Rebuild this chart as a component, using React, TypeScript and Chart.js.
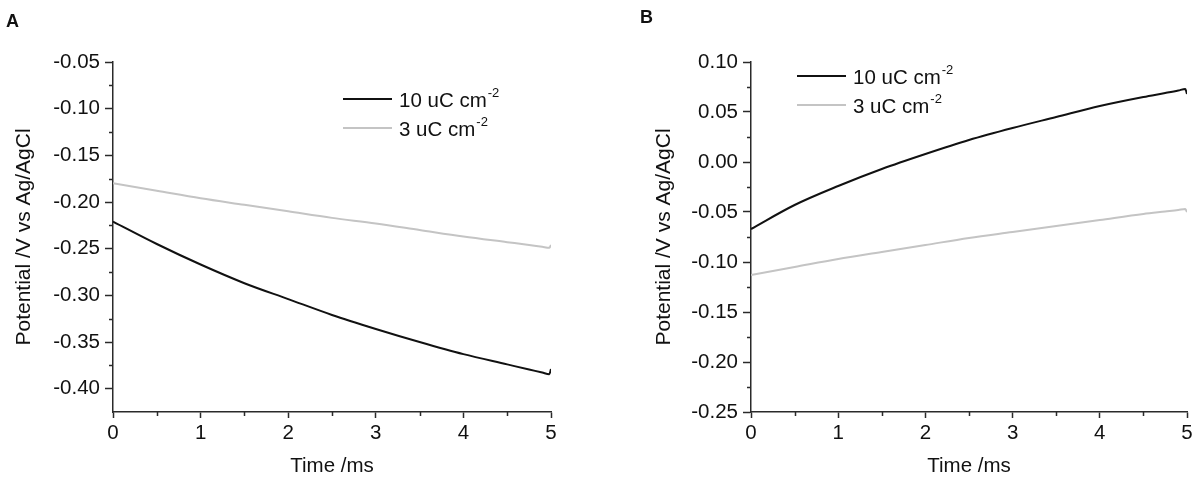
import React, { useEffect, useRef } from 'react';
import { Chart, registerables } from 'chart.js';

Chart.register(...registerables);

// sample times (ms); the points after 4.5 follow the small hook at the end of each trace
const times = [0, 0.5, 1, 1.5, 2, 2.5, 3, 3.5, 4, 4.5, 4.75, 4.9, 4.98, 5];

// panel A, potential /V vs Ag/AgCl
const a10uC = [-0.221, -0.245, -0.267, -0.287, -0.304, -0.321, -0.336, -0.35, -0.363, -0.374, -0.3795, -0.3827, -0.3845, -0.379];
const a3uC = [-0.18, -0.188, -0.196, -0.203, -0.21, -0.217, -0.223, -0.23, -0.237, -0.243, -0.246, -0.248, -0.249, -0.246];

// panel B
const b10uC = [-0.067, -0.043, -0.024, -0.007, 0.008, 0.022, 0.034, 0.045, 0.056, 0.065, 0.069, 0.0715, 0.073, 0.068];
const b3uC = [-0.113, -0.105, -0.097, -0.09, -0.083, -0.076, -0.07, -0.064, -0.058, -0.052, -0.0495, -0.048, -0.047, -0.05];

const xTicks = [0, 1, 2, 3, 4, 5];
const yTicksA = [-0.4, -0.35, -0.3, -0.25, -0.2, -0.15, -0.1, -0.05];
const yTicksB = [-0.25, -0.2, -0.15, -0.1, -0.05, 0, 0.05, 0.1];

const seriesLabels = ['10 uC cm', '3 uC cm'];
const seriesColors = ['#111111', '#c4c4c4'];

const FONT = '"Liberation Sans", Arial, sans-serif';
const AXIS = '#2a2a2a';

// short unlabelled ticks half way between the labelled ones
const minorTicks = {
  id: 'minorTicks',
  afterDraw(chart: any) {
    const { ctx } = chart;
    const x = chart.scales.x;
    const y = chart.scales.y;
    ctx.save();
    ctx.strokeStyle = AXIS;
    ctx.lineWidth = 1.5;
    ctx.beginPath();
    for (let i = 0; i < x.ticks.length - 1; i++) {
      const px = Math.round(x.getPixelForValue((x.ticks[i].value + x.ticks[i + 1].value) / 2)) + 0.5;
      ctx.moveTo(px, x.top);
      ctx.lineTo(px, x.top + 4);
    }
    for (let i = 0; i < y.ticks.length - 1; i++) {
      const py = Math.round(y.getPixelForValue((y.ticks[i].value + y.ticks[i + 1].value) / 2)) + 0.5;
      ctx.moveTo(y.right, py);
      ctx.lineTo(y.right - 4, py);
    }
    ctx.stroke();
    ctx.restore();
  },
};

// legend with a line sample and a superscript "-2"
const lineLegend = {
  id: 'lineLegend',
  afterDraw(chart: any, _args: any, opts: any) {
    const { ctx, chartArea } = chart;
    const x0 = chartArea.left + opts.dx;
    let y0 = chartArea.top + opts.dy;
    ctx.save();
    chart.data.datasets.forEach((ds: any) => {
      ctx.strokeStyle = ds.borderColor;
      ctx.lineWidth = 2;
      ctx.beginPath();
      ctx.moveTo(x0, y0);
      ctx.lineTo(x0 + 49, y0);
      ctx.stroke();
      ctx.fillStyle = '#111';
      ctx.textBaseline = 'alphabetic';
      ctx.font = `20.5px ${FONT}`;
      ctx.fillText(ds.label, x0 + 56, y0 + 8);
      const w = ctx.measureText(ds.label).width;
      ctx.font = `13px ${FONT}`;
      ctx.fillText('-2', x0 + 57 + w, y0 - 2);
      y0 += 29;
    });
    ctx.restore();
  },
};

interface PanelProps {
  series: number[][];
  yMin: number;
  yMax: number;
  yTicks: number[];
  axisWidth: number;
  padRight: number;
  titlePad: number;
  legendDx: number;
  legendDy: number;
}

const Panel: React.FC<PanelProps> = ({ series, yMin, yMax, yTicks, axisWidth, padRight, titlePad, legendDx, legendDy }) => {
  const canvasRef = useRef<HTMLCanvasElement>(null);

  useEffect(() => {
    if (!canvasRef.current) return;
    const chart = new Chart(canvasRef.current, {
      type: 'line',
      data: {
        datasets: series.map((vals, i) => ({
          label: seriesLabels[i],
          data: times.map((t, k) => ({ x: t, y: vals[k] })),
          borderColor: seriesColors[i],
          borderWidth: 2,
          pointRadius: 0,
          fill: false,
          cubicInterpolationMode: 'monotone' as const,
        })),
      },
      options: {
        responsive: false,
        animation: false,
        layout: { padding: { left: 0, top: 62, right: padRight, bottom: 0 } },
        scales: {
          x: {
            type: 'linear',
            min: 0,
            max: 5,
            afterBuildTicks: (s: any) => { s.ticks = xTicks.map(value => ({ value })); },
            afterFit: (s: any) => { s.height = 71; },
            grid: { drawOnChartArea: false, tickLength: 6, tickWidth: 1.5, tickColor: AXIS },
            border: { color: AXIS, width: 1.5 },
            ticks: { color: '#111', padding: 3, font: { family: FONT, size: 20.5 }, maxRotation: 0 },
            title: { display: true, text: 'Time /ms', color: '#111', font: { family: FONT, size: 20.5 }, padding: { top: 0, bottom: 4 } },
          },
          y: {
            type: 'linear',
            min: yMin,
            max: yMax,
            afterBuildTicks: (s: any) => { s.ticks = yTicks.map(value => ({ value })); },
            afterFit: (s: any) => { s.width = axisWidth; },
            grid: { drawOnChartArea: false, tickLength: 8, tickWidth: 1.5, tickColor: AXIS },
            border: { color: AXIS, width: 1.5 },
            ticks: { color: '#111', padding: 5, font: { family: FONT, size: 20.5 }, callback: (v: any) => Number(v).toFixed(2) },
            title: { display: true, text: 'Potential /V vs Ag/AgCl', color: '#111', font: { family: FONT, size: 21 }, padding: { top: titlePad, bottom: 0 } },
          },
        },
        plugins: {
          legend: { display: false },
          tooltip: { enabled: false },
          lineLegend: { dx: legendDx, dy: legendDy },
        } as any,
      },
      plugins: [minorTicks, lineLegend],
    });
    return () => chart.destroy();
  }, []);

  return <canvas ref={canvasRef} width={600} height={483} />;
};

const letterStyle: React.CSSProperties = {
  position: 'absolute',
  fontFamily: FONT,
  fontWeight: 'bold',
  fontSize: 18,
  lineHeight: 1,
  color: '#111',
};

export default function App() {
  return (
    <div style={{ position: 'absolute', left: 0, top: 0, width: 1200, height: 483, background: '#fff' }}>
      <div style={{ position: 'absolute', left: 0, top: 0 }}>
        <Panel series={[a10uC, a3uC]} yMin={-0.425} yMax={-0.05} yTicks={yTicksA}
          axisWidth={113} padRight={49} titlePad={12} legendDx={230} legendDy={37} />
      </div>
      <div style={{ position: 'absolute', left: 600, top: 0 }}>
        <Panel series={[b10uC, b3uC]} yMin={-0.25} yMax={0.1} yTicks={yTicksB}
          axisWidth={151} padRight={13} titlePad={52} legendDx={46} legendDy={14} />
      </div>
      <div style={{ ...letterStyle, left: 6, top: 12 }}>A</div>
      <div style={{ ...letterStyle, left: 640, top: 8 }}>B</div>
    </div>
  );
}
